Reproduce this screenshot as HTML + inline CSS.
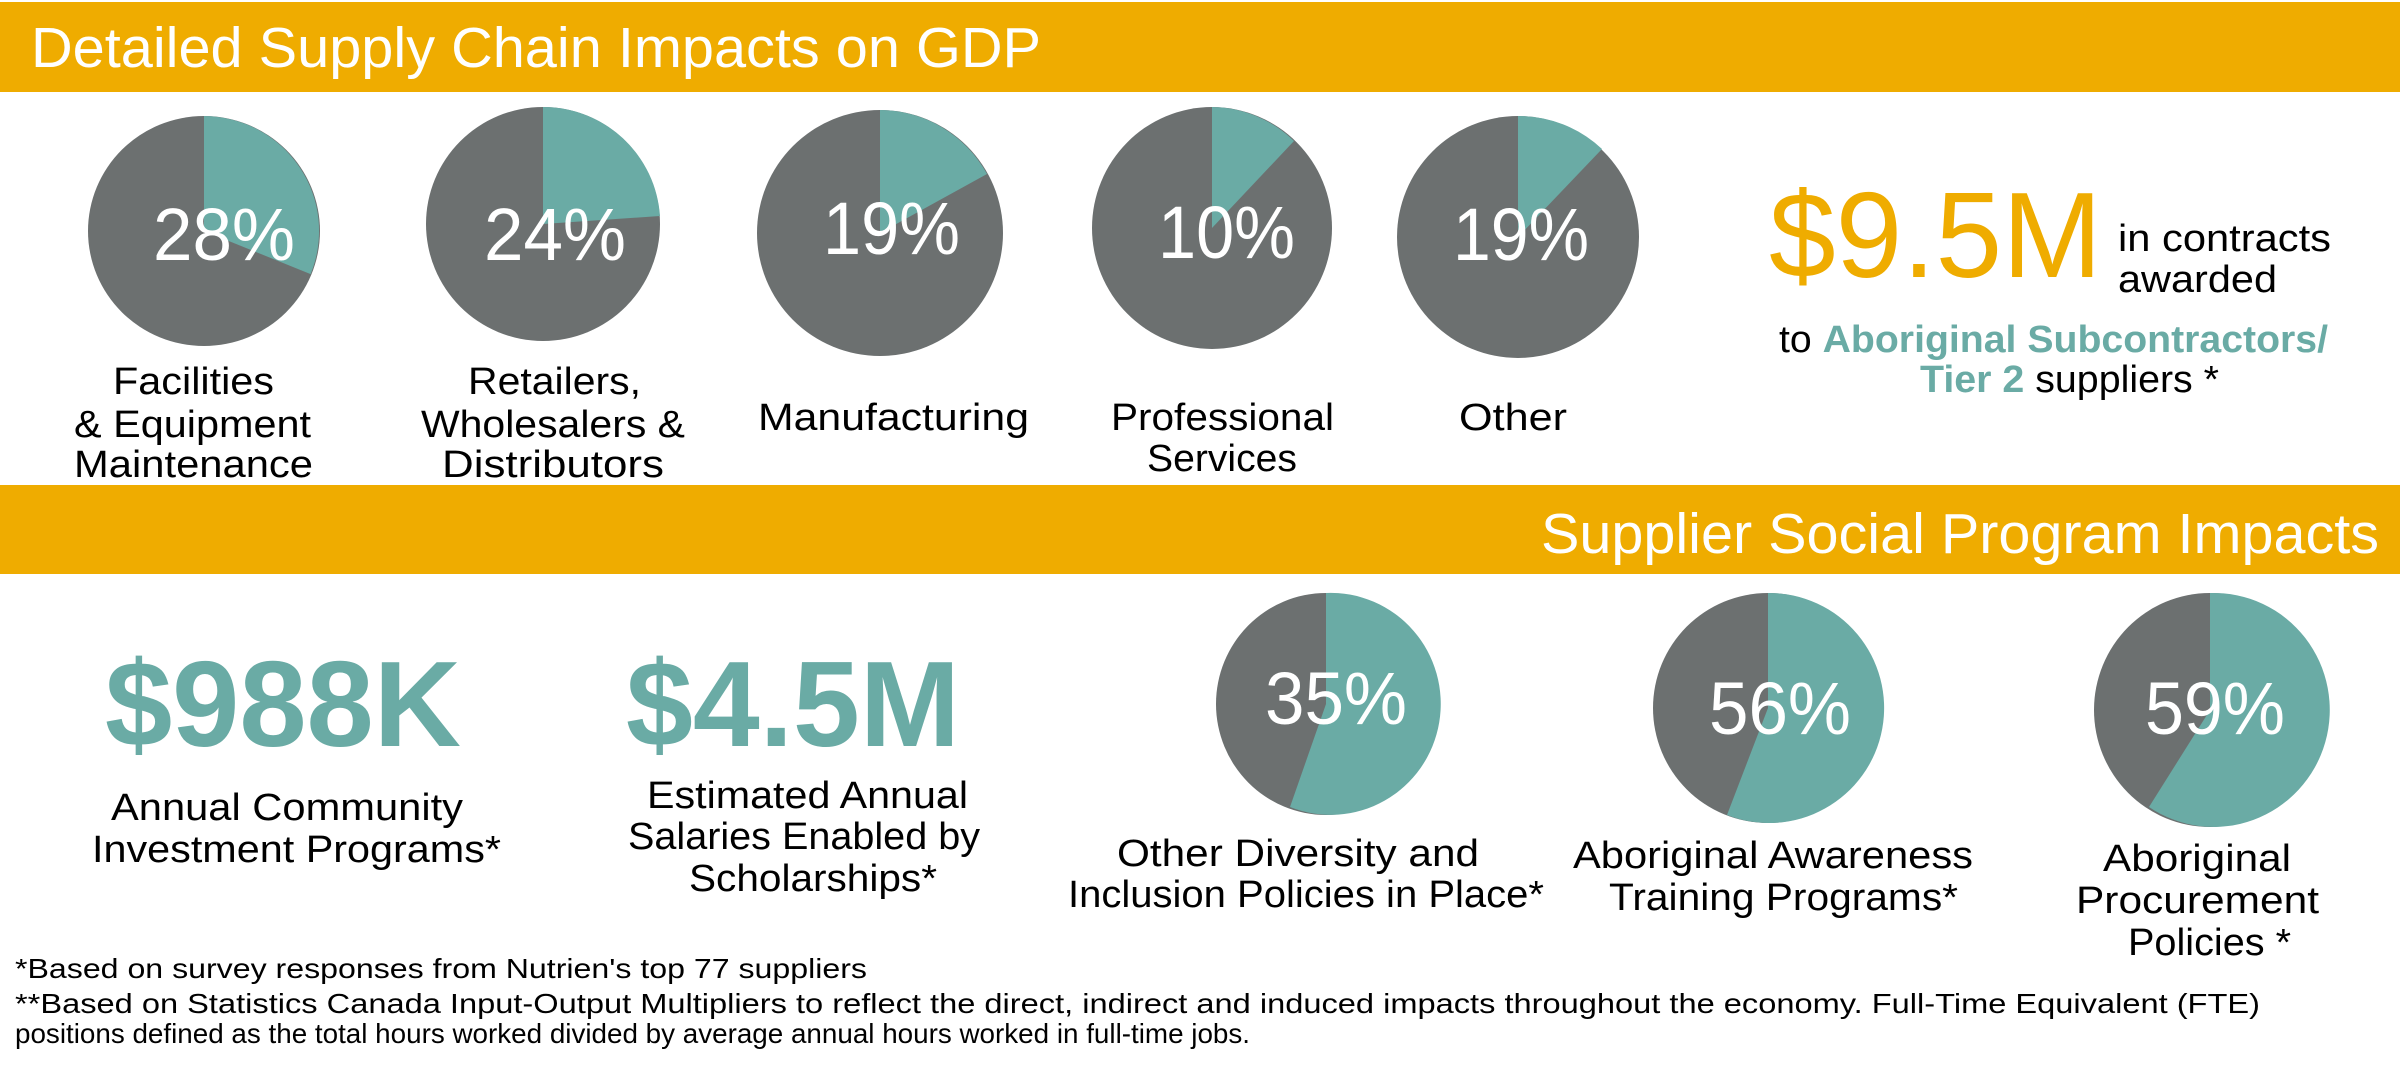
<!DOCTYPE html>
<html><head><meta charset="utf-8"><style>
html,body{margin:0;padding:0;background:#fff;}
svg{display:block;}
text{font-family:"Liberation Sans",sans-serif;}
</style></head><body>
<svg width="2400" height="1075" viewBox="0 0 2400 1075" xmlns="http://www.w3.org/2000/svg">
<rect x="0" y="2" width="2400" height="90" fill="#efac00"/>
<rect x="0" y="485" width="2400" height="89" fill="#efac00"/>
<text x="31" y="67" font-size="57" fill="#fff" textLength="1010" lengthAdjust="spacingAndGlyphs">Detailed Supply Chain Impacts on GDP</text>
<text x="1541" y="553" font-size="57" fill="#fff" textLength="838" lengthAdjust="spacingAndGlyphs">Supplier Social Program Impacts</text>

<g fill="#6c7070">
<ellipse cx="204" cy="231" rx="116" ry="115"/>
<ellipse cx="543" cy="224" rx="117" ry="117"/>
<ellipse cx="880" cy="233" rx="123" ry="123"/>
<ellipse cx="1212" cy="228" rx="120" ry="121"/>
<ellipse cx="1518" cy="237" rx="121" ry="121"/>
<ellipse cx="1326" cy="704" rx="110" ry="111"/>
<ellipse cx="1768" cy="708" rx="115" ry="115"/>
<ellipse cx="2210" cy="710" rx="116" ry="117"/>
</g>
<g fill="#6aaba5">
<path d="M204,231 L204,116 A116,115 0 0 1 310.6,274.1 Z"/>
<path d="M543,224 L543,107 A117,117 0 0 1 660,216 Z"/>
<path d="M880,233 L880,110 A123,123 0 0 1 987,174 Z"/>
<path d="M1212,228 L1212,107 A120,121 0 0 1 1294,141 Z"/>
<path d="M1518,237 L1518,116 A121,121 0 0 1 1602,149 Z"/>
<path d="M1326,704 L1326,593 A110,111 0 1 1 1290,807 Z"/>
<path d="M1768,708 L1768,593 A115,115 0 1 1 1727,815 Z"/>
<path d="M2210,710 L2210,593 A116,117 0 1 1 2149,807 Z"/>
</g>
<g fill="#fff" font-size="74">
<text x="153" y="260" textLength="142" lengthAdjust="spacingAndGlyphs">28%</text>
<text x="484" y="260" textLength="142" lengthAdjust="spacingAndGlyphs">24%</text>
<text x="823" y="254" textLength="137" lengthAdjust="spacingAndGlyphs">19%</text>
<text x="1158" y="258" textLength="137" lengthAdjust="spacingAndGlyphs">10%</text>
<text x="1453" y="260" textLength="136" lengthAdjust="spacingAndGlyphs">19%</text>
<text x="1265" y="724" textLength="142" lengthAdjust="spacingAndGlyphs">35%</text>
<text x="1709" y="734" textLength="142" lengthAdjust="spacingAndGlyphs">56%</text>
<text x="2145" y="734" textLength="140" lengthAdjust="spacingAndGlyphs">59%</text>
</g>
<g fill="#000" font-size="38">
<text x="113" y="394" textLength="161" lengthAdjust="spacingAndGlyphs">Facilities</text>
<text x="74" y="437" textLength="237" lengthAdjust="spacingAndGlyphs">&amp; Equipment</text>
<text x="74" y="477" textLength="239" lengthAdjust="spacingAndGlyphs">Maintenance</text>
<text x="468" y="394" textLength="173" lengthAdjust="spacingAndGlyphs">Retailers,</text>
<text x="421" y="437" textLength="264" lengthAdjust="spacingAndGlyphs">Wholesalers &amp;</text>
<text x="442" y="477" textLength="222" lengthAdjust="spacingAndGlyphs">Distributors</text>
<text x="758" y="430" textLength="271" lengthAdjust="spacingAndGlyphs">Manufacturing</text>
<text x="1111" y="430" textLength="223" lengthAdjust="spacingAndGlyphs">Professional</text>
<text x="1147" y="471" textLength="150" lengthAdjust="spacingAndGlyphs">Services</text>
<text x="1459" y="430" textLength="108" lengthAdjust="spacingAndGlyphs">Other</text>
<text x="2118" y="251" textLength="213" lengthAdjust="spacingAndGlyphs">in contracts</text>
<text x="2118" y="292" textLength="159" lengthAdjust="spacingAndGlyphs">awarded</text>
<text x="1779" y="352" textLength="549" lengthAdjust="spacingAndGlyphs">to <tspan fill="#6aaba5" font-weight="bold">Aboriginal Subcontractors/</tspan></text>
<text x="1920" y="392" textLength="299" lengthAdjust="spacingAndGlyphs"><tspan fill="#6aaba5" font-weight="bold">Tier 2</tspan> suppliers *</text>
<text x="111" y="820" textLength="352" lengthAdjust="spacingAndGlyphs">Annual Community</text>
<text x="92" y="862" textLength="409" lengthAdjust="spacingAndGlyphs">Investment Programs*</text>
<text x="647" y="808" textLength="321" lengthAdjust="spacingAndGlyphs">Estimated Annual</text>
<text x="628" y="849" textLength="352" lengthAdjust="spacingAndGlyphs">Salaries Enabled by</text>
<text x="689" y="891" textLength="248" lengthAdjust="spacingAndGlyphs">Scholarships*</text>
<text x="1117" y="866" textLength="362" lengthAdjust="spacingAndGlyphs">Other Diversity and</text>
<text x="1068" y="907" textLength="476" lengthAdjust="spacingAndGlyphs">Inclusion Policies in Place*</text>
<text x="1573" y="868" textLength="400" lengthAdjust="spacingAndGlyphs">Aboriginal Awareness</text>
<text x="1609" y="910" textLength="349" lengthAdjust="spacingAndGlyphs">Training Programs*</text>
<text x="2103" y="871" textLength="188" lengthAdjust="spacingAndGlyphs">Aboriginal</text>
<text x="2076" y="913" textLength="243" lengthAdjust="spacingAndGlyphs">Procurement</text>
<text x="2128" y="955" textLength="163" lengthAdjust="spacingAndGlyphs">Policies *</text>
</g>
<text x="1769" y="277" font-size="122" fill="#efac00" textLength="333" lengthAdjust="spacingAndGlyphs">$9.5M</text>
<text x="105" y="746" font-size="122" font-weight="bold" fill="#6aaba5" textLength="356" lengthAdjust="spacingAndGlyphs">$988K</text>
<text x="626" y="746" font-size="122" font-weight="bold" fill="#6aaba5" textLength="334" lengthAdjust="spacingAndGlyphs">$4.5M</text>
<g fill="#000" font-size="28">
<text x="15" y="978" textLength="852" lengthAdjust="spacingAndGlyphs">*Based on survey responses from Nutrien's top 77 suppliers</text>
<text x="15" y="1013" textLength="2245" lengthAdjust="spacingAndGlyphs">**Based on Statistics Canada Input-Output Multipliers to reflect the direct, indirect and induced impacts throughout the  economy. Full-Time Equivalent (FTE)</text>
<text x="15" y="1043" textLength="1235" lengthAdjust="spacingAndGlyphs">positions defined as the total hours worked divided by average annual hours worked in full-time jobs.</text>
</g>
</svg>
</body></html>
